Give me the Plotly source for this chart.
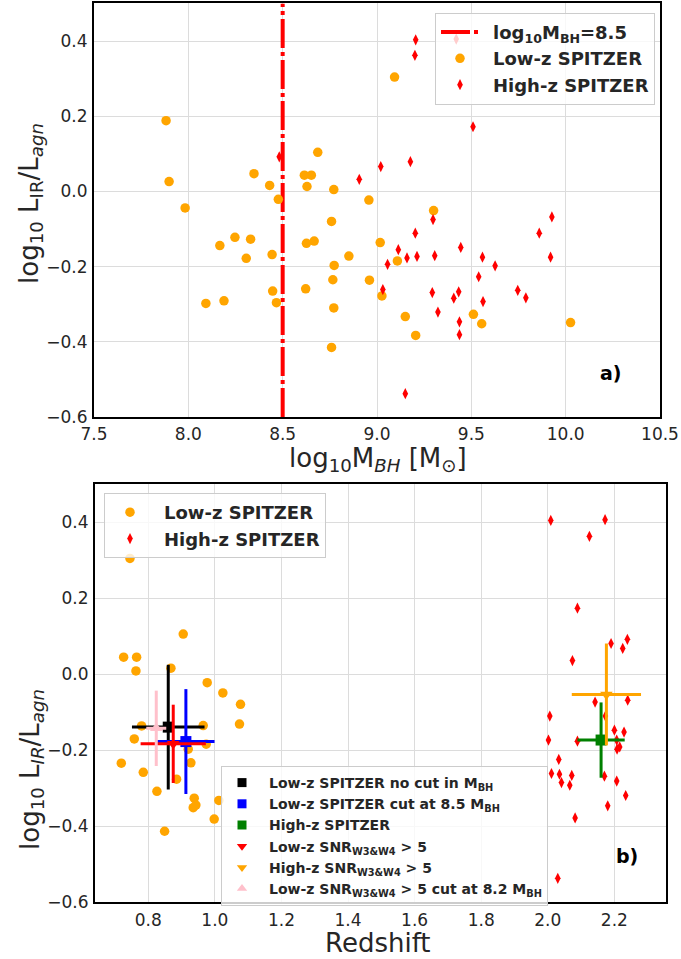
import plotly.graph_objects as go

# ---------------- panel a: black-hole mass vs IR/AGN luminosity ratio ----------------
lowz_mbh = [7.882, 7.898, 7.983, 8.348, 8.431, 8.477, 8.615, 8.652, 8.629, 8.686,
            8.771, 8.957, 8.759, 8.167, 8.247, 8.330, 8.307, 8.444, 8.626, 8.667,
            8.851, 8.773, 8.766, 8.960, 9.017, 9.026, 8.447, 8.622, 8.093, 8.189,
            8.467, 8.771, 8.759, 9.093, 9.300, 9.108, 9.150, 9.511, 9.555, 10.026,
            9.205]
lowz_ratio = [0.188, 0.026, -0.044, 0.047, 0.016, -0.021, 0.043, 0.043, 0.013, 0.104,
              0.005, -0.023, -0.080, -0.144, -0.122, -0.127, -0.178, -0.168, -0.138, -0.132,
              -0.172, -0.197, -0.235, -0.236, -0.136, -0.278, -0.265, -0.259, -0.298, -0.291,
              -0.296, -0.310, -0.415, 0.304, -0.051, -0.185, -0.333, -0.327, -0.352, -0.349,
              -0.383]

highz_mbh = [8.482, 8.906, 9.020, 9.205, 9.201, 9.509, 9.177, 9.297, 9.927, 9.860,
             9.203, 9.113, 9.444, 9.159, 9.212, 9.306, 9.056, 9.559, 9.920, 9.626,
             9.539, 9.031, 9.293, 9.433, 9.407, 9.746, 9.789, 9.562, 9.323, 9.437,
             9.437, 9.150, 9.420]
highz_ratio = [0.092, 0.032, 0.066, 0.403, 0.362, 0.172, 0.079, -0.075, -0.068, -0.111,
               -0.111, -0.155, -0.149, -0.177, -0.173, -0.171, -0.194, -0.175, -0.175, -0.198,
               -0.227, -0.261, -0.269, -0.267, -0.284, -0.263, -0.283, -0.293, -0.321, -0.347,
               -0.381, -0.538, 0.405]

mbh_cut = 8.5

# ---------------- panel b: redshift vs IR/AGN luminosity ratio ----------------
lowz_z = [0.745, 0.905, 0.726, 0.765, 0.763, 0.868, 0.977, 1.024, 1.077, 1.074,
          0.965, 0.780, 0.758, 0.974, 0.920, 0.928, 0.719, 0.785, 0.885, 0.826,
          0.938, 0.935, 0.943, 1.012, 0.998, 0.849]
lowz_ratio_z = [0.305, 0.106, 0.045, 0.045, 0.009, 0.016, -0.022, -0.049, -0.079, -0.131,
                -0.135, -0.136, -0.170, -0.184, -0.197, -0.233, -0.234, -0.258, -0.276, -0.308,
                -0.326, -0.351, -0.344, -0.332, -0.381, -0.413]

highz_z = [2.009, 2.172, 2.125, 2.089, 2.190, 2.239, 2.225, 2.074, 2.142, 2.240,
           2.006, 2.173, 2.002, 2.089, 2.200, 2.229, 2.207, 2.216, 2.208, 2.033,
           2.011, 2.035, 2.072, 2.041, 2.066, 2.170, 2.207, 2.234, 2.180, 2.082,
           2.030]
highz_ratio_z = [0.405, 0.407, 0.363, 0.174, 0.081, 0.092, 0.068, 0.036, -0.073, -0.068,
                 -0.110, -0.110, -0.173, -0.176, -0.147, -0.152, -0.173, -0.191, -0.197, -0.224,
                 -0.261, -0.263, -0.266, -0.285, -0.292, -0.268, -0.281, -0.319, -0.346, -0.378,
                 -0.537]

# sample averages with their spreads
avg_names = ["Low-z SPITZER no cut in M<sub>BH</sub>",
             "Low-z SPITZER cut at 8.5 M<sub>BH</sub>",
             "High-z SPITZER",
             "Low-z SNR<sub>W3&W4</sub> > 5",
             "High-z SNR<sub>W3&W4</sub> > 5",
             "Low-z SNR<sub>W3&W4</sub> > 5 cut at 8.2 M<sub>BH</sub>"]
avg_z = [0.860, 0.913, 2.160, 0.875, 2.176, 0.824]
avg_ratio = [-0.139, -0.177, -0.173, -0.183, -0.053, -0.142]
avg_z_err = [0.109, 0.086, 0.071, 0.098, 0.104, 0.030]
avg_ratio_err = [0.164, 0.138, 0.099, 0.103, 0.134, 0.099]
avg_colors = ["black", "blue", "green", "red", "orange", "pink"]
avg_symbols = ["square", "square", "square", "triangle-down", "triangle-down", "triangle-up"]

# ---------------- styling ----------------
W, H = 681, 959
FONT = "DejaVu Sans"
TXT = "#262626"
GRID = "#dcdcdc"
ORANGE = "#FFA500"
RED = "#FF0000"
PAD = "\u2002"  # gap between legend symbol and label


def px_x(p):
    return p / W


def px_y(p):
    return 1 - p / H


fig = go.Figure()

# panel a
fig.add_trace(go.Scatter(
    x=[mbh_cut, mbh_cut], y=[-0.6, 0.5], mode="lines",
    line=dict(color=RED, width=4, dash="29px,4px,4px,4px"),
    name=PAD + "<b>log<sub>10</sub>M<sub>BH</sub>=8.5</b>",
    xaxis="x", yaxis="y", legend="legend"))
fig.add_trace(go.Scatter(
    x=lowz_mbh, y=lowz_ratio, mode="markers",
    marker=dict(color=ORANGE, size=9.5, symbol="circle"),
    name=PAD + "<b>Low-z SPITZER</b>", xaxis="x", yaxis="y", legend="legend"))
fig.add_trace(go.Scatter(
    x=highz_mbh, y=highz_ratio, mode="markers",
    marker=dict(color=RED, size=8, symbol="diamond-tall"),
    name=PAD + "<b>High-z SPITZER</b>", xaxis="x", yaxis="y", legend="legend"))

# panel b
fig.add_trace(go.Scatter(
    x=lowz_z, y=lowz_ratio_z, mode="markers",
    marker=dict(color=ORANGE, size=9.5, symbol="circle"),
    name=PAD + "<b>Low-z SPITZER</b>", xaxis="x2", yaxis="y2", legend="legend2"))
fig.add_trace(go.Scatter(
    x=highz_z, y=highz_ratio_z, mode="markers",
    marker=dict(color=RED, size=8, symbol="diamond-tall"),
    name=PAD + "<b>High-z SPITZER</b>", xaxis="x2", yaxis="y2", legend="legend2"))

for name, zx, ry, ex, ey, col, sym in zip(avg_names, avg_z, avg_ratio, avg_z_err,
                                          avg_ratio_err, avg_colors, avg_symbols):
    fig.add_trace(go.Scatter(
        x=[zx], y=[ry], mode="markers",
        marker=dict(color=col, size=11, symbol=sym),
        error_x=dict(type="constant", value=ex, color=col, thickness=3, width=0),
        error_y=dict(type="constant", value=ey, color=col, thickness=3, width=0),
        showlegend=False, xaxis="x2", yaxis="y2"))
    # smaller marker for the legend entry
    fig.add_trace(go.Scatter(
        x=[None], y=[None], mode="markers",
        marker=dict(color=col, size=9, symbol=sym),
        name=PAD + "<b>" + name + "</b>", xaxis="x2", yaxis="y2", legend="legend3"))

axis_common = dict(
    showgrid=True, gridcolor=GRID, gridwidth=1.3,
    showline=True, linecolor="black", linewidth=2, mirror=True,
    zeroline=False, ticks="", ticklabelstandoff=1, automargin=False,
    tickfont=dict(family=FONT, size=17, color=TXT),
    tickformat=".1f",
)

legend_common = dict(xanchor="left", yanchor="top",
                     bgcolor="rgba(255,255,255,0.8)", bordercolor="#cccccc",
                     borderwidth=1, tracegroupgap=0)

fig.update_layout(
    width=W, height=H,
    margin=dict(l=0, r=0, t=0, b=0, autoexpand=False),
    paper_bgcolor="white", plot_bgcolor="white",
    xaxis=dict(axis_common, domain=[px_x(94), px_x(660)], range=[7.5, 10.5],
               tickvals=[7.5, 8.0, 8.5, 9.0, 9.5, 10.0, 10.5], anchor="y"),
    yaxis=dict(axis_common, domain=[px_y(417), px_y(3.4)], range=[-0.6, 0.5],
               tickvals=[-0.6, -0.4, -0.2, 0.0, 0.2, 0.4], anchor="x"),
    xaxis2=dict(axis_common, domain=[px_x(95), px_x(666)], range=[0.64, 2.355],
                tickvals=[0.8, 1.0, 1.2, 1.4, 1.6, 1.8, 2.0, 2.2], anchor="y2"),
    yaxis2=dict(axis_common, domain=[px_y(902.3), px_y(484.3)], range=[-0.6, 0.5],
                tickvals=[-0.6, -0.4, -0.2, 0.0, 0.2, 0.4], anchor="x2"),
    legend=dict(legend_common, x=px_x(435), y=px_y(12.7), itemwidth=38,
                font=dict(family=FONT, size=18, color=TXT)),
    legend2=dict(legend_common, x=px_x(104), y=px_y(493), itemwidth=40,
                 font=dict(family=FONT, size=18, color=TXT)),
    legend3=dict(legend_common, x=px_x(221), y=px_y(766), itemwidth=30,
                 font=dict(family=FONT, size=14, color=TXT)),
    showlegend=True,
)

title_font = dict(family=FONT, size=26, color=TXT)


def label(text, xp, yp, angle=0):
    return dict(text=text, textangle=angle, x=px_x(xp), y=px_y(yp),
                xref="paper", yref="paper", xanchor="center", yanchor="middle",
                showarrow=False, borderpad=0, font=title_font)


annotations = [
    label("log<sub>10</sub> L<sub>IR</sub>/L<sub><i>agn</i></sub>", 31, 204, -90),
    label("log<sub>10</sub>M<sub><i>BH</i></sub> [M<sub>⊙</sub>]", 378, 459),
    label("log<sub>10</sub> L<sub><i>IR</i></sub>/L<sub><i>agn</i></sub>", 31, 770, -90),
    label("Redshift", 378, 943),
    dict(text="<b>a)</b>", x=10.24, y=-0.483, xref="x", yref="y", showarrow=False,
         font=dict(family=FONT, size=19, color="black")),
    dict(text="<b>b)</b>", x=2.239, y=-0.478, xref="x2", yref="y2", showarrow=False,
         font=dict(family=FONT, size=19, color="black")),
]
fig.update_layout(annotations=annotations)

fig.write_html("out.html")
